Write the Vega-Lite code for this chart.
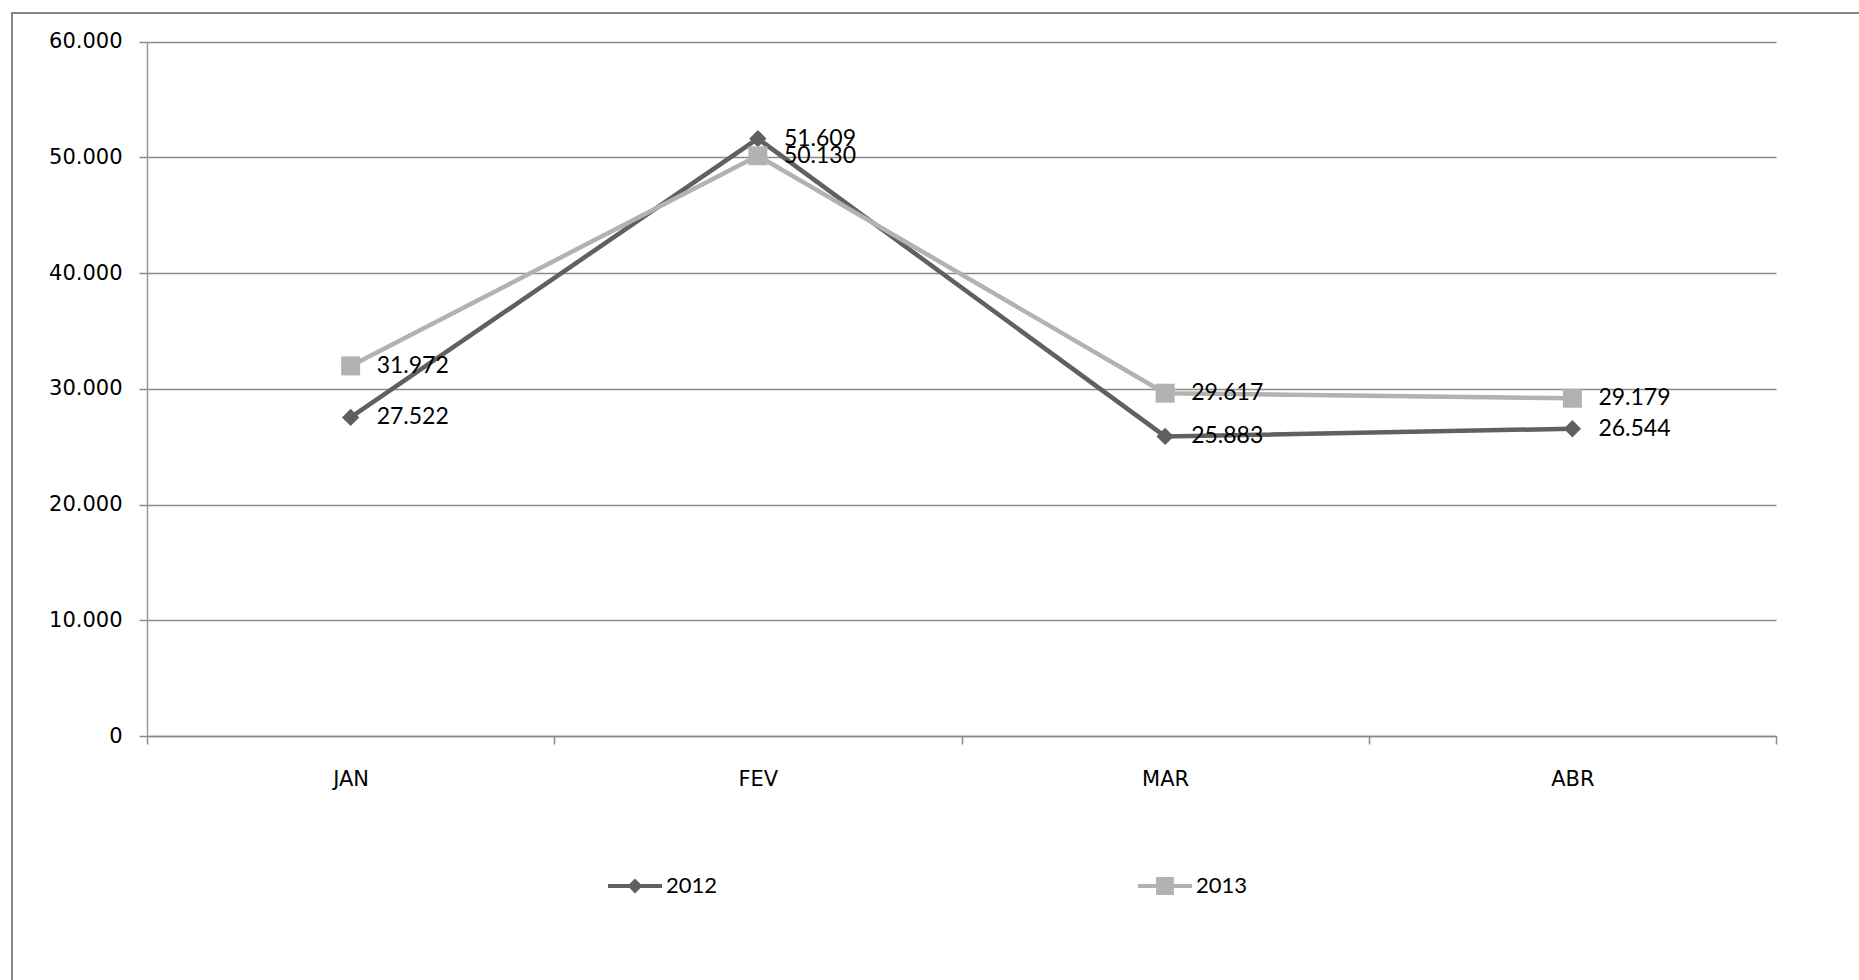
{
  "$schema": "https://vega.github.io/schema/vega-lite/v6.json",
  "width": 1851,
  "height": 971,
  "autosize": {"type": "none"},
  "padding": {"left": 12, "top": 13, "right": -4, "bottom": -4},
  "background": "white",
  "config": {
    "locale": {"number": {"decimal": ",", "thousands": ".", "grouping": [3], "currency": ["R$", ""]}},
    "view": {"stroke": "#878787", "strokeWidth": 2}
  },
  "data": {
    "values": [
      {"mes": "JAN", "ano": "2012", "valor": 27522},
      {"mes": "FEV", "ano": "2012", "valor": 51609},
      {"mes": "MAR", "ano": "2012", "valor": 25883},
      {"mes": "ABR", "ano": "2012", "valor": 26544},
      {"mes": "JAN", "ano": "2013", "valor": 31972},
      {"mes": "FEV", "ano": "2013", "valor": 50130},
      {"mes": "MAR", "ano": "2013", "valor": 29617},
      {"mes": "ABR", "ano": "2013", "valor": 29179}
    ]
  },
  "encoding": {
    "x": {
      "field": "mes", "type": "ordinal", "sort": ["JAN", "FEV", "MAR", "ABR"], "bandPosition": 0.5,
      "scale": {"type": "band", "range": [135, 1764], "paddingInner": 0, "paddingOuter": 0},
      "axis": {"title": null, "labelAngle": 0, "tickBand": "extent", "tickSize": 8, "tickColor": "#8a8a8a", "tickWidth": 1.5,
        "domainColor": "#8a8a8a", "domainWidth": 1.5, "labelFont": "DejaVu Sans", "labelFontSize": 21, "labelColor": "black",
        "labelPadding": 24, "offset": -248, "grid": false}
    },
    "y": {
      "field": "valor", "type": "quantitative",
      "scale": {"domain": [0, 60000], "range": [723, 28.5], "nice": false},
      "axis": {"title": null, "values": [0, 10000, 20000, 30000, 40000, 50000, 60000], "format": ",d", "offset": -135,
        "tickSize": 8, "tickColor": "#8a8a8a", "tickWidth": 1.5, "domainColor": "#9a9a9a", "domainWidth": 1.5,
        "grid": true, "gridColor": "#8a8a8a", "gridWidth": 1.5, "labelFont": "DejaVu Sans", "labelFontSize": 21,
        "labelColor": "black", "labelPadding": 17}
    },
    "color": {
      "field": "ano", "type": "nominal",
      "scale": {"domain": ["2012", "2013"], "range": ["#606060", "#b2b2b2"]},
      "legend": {"title": null, "orient": "none", "legendX": 596, "legendY": 846, "direction": "horizontal",
        "columnPadding": 420, "symbolSize": 2916, "symbolStrokeWidth": 0, "labelFont": "Lato", "labelFontSize": 22,
        "labelColor": "black", "labelOffset": 4, "padding": 0,
        "encode": {"symbols": {"update": {
          "shape": {"signal": "datum.value == '2012' ? 'M-1,-0.075H-0.205L0,-0.28L0.205,-0.075H1V0.075H0.205L0,0.28L-0.205,0.075H-1Z' : 'M-1,-0.075H-0.33V-0.33H0.33V-0.075H1V0.075H0.33V0.33H-0.33V0.075H-1Z'"},
          "fill": {"signal": "datum.value == '2012' ? '#606060' : '#b2b2b2'"},
          "stroke": {"value": "transparent"},
          "opacity": {"value": 1}
        }}}}
    }
  },
  "layer": [
    {"mark": {"type": "line", "strokeWidth": 4.5}},
    {"transform": [{"filter": "datum.ano == '2012'"}],
      "mark": {"type": "point", "filled": true, "opacity": 1, "shape": "diamond", "size": 300}},
    {"transform": [{"filter": "datum.ano == '2013'"}],
      "mark": {"type": "point", "filled": true, "opacity": 1, "shape": "square", "size": 360}},
    {"mark": {"type": "text", "align": "left", "baseline": "middle", "dx": 26, "font": "Lato", "fontSize": 23},
      "encoding": {"text": {"field": "valor", "type": "quantitative", "format": ",d"}, "color": {"value": "black"}}}
  ]
}
